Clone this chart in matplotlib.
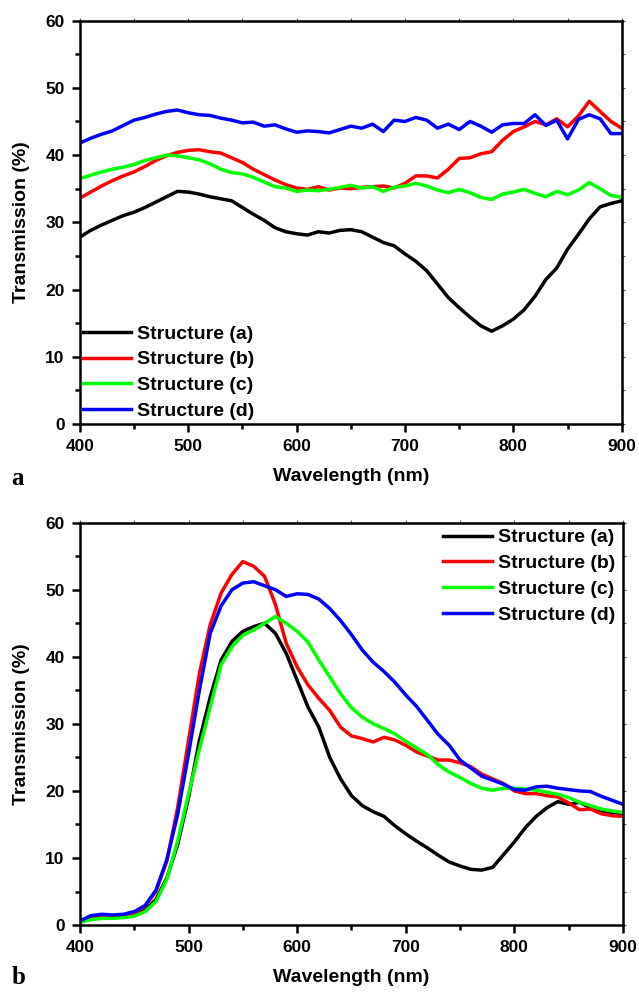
import numpy as np
import matplotlib.pyplot as plt
from matplotlib.ticker import MultipleLocator

plt.rcParams['font.family'] = ['Liberation Sans', 'DejaVu Sans']
plt.rcParams['font.weight'] = 'bold'

# wavelength grid (nm), shared by all curves
wl = np.arange(400, 901, 10)

# panel a: transmission (%)
top_a = [27.8, 28.8, 29.6, 30.3, 31.0, 31.5, 32.2, 33.0, 33.8, 34.6, 34.5,
         34.2, 33.8, 33.5, 33.2, 32.2, 31.2, 30.3, 29.2, 28.6, 28.3, 28.1,
         28.6, 28.4, 28.8, 28.9, 28.6, 27.8, 27.0, 26.5, 25.3, 24.2, 22.8,
         20.8, 18.8, 17.3, 15.9, 14.6, 13.8, 14.6, 15.6, 17.0, 19.0, 21.5,
         23.2, 26.0, 28.2, 30.5, 32.3, 32.8, 33.2]
top_b = [33.6, 34.5, 35.4, 36.2, 36.9, 37.5, 38.3, 39.2, 39.9, 40.4, 40.7,
         40.8, 40.5, 40.3, 39.6, 38.9, 37.9, 37.1, 36.3, 35.6, 35.1, 34.9,
         35.3, 34.8, 35.1, 35.0, 35.2, 35.3, 35.4, 35.1, 35.8, 36.9, 36.9,
         36.6, 37.9, 39.5, 39.6, 40.2, 40.5, 42.2, 43.5, 44.2, 45.0, 44.5,
         45.4, 44.2, 45.8, 48.0, 46.5, 45.0, 44.0]
top_c = [36.5, 37.0, 37.5, 37.9, 38.2, 38.6, 39.2, 39.6, 40.0, 39.9, 39.6,
         39.3, 38.7, 37.9, 37.4, 37.2, 36.7, 36.0, 35.3, 35.1, 34.6, 34.8,
         34.7, 34.9, 35.2, 35.5, 35.1, 35.3, 34.6, 35.2, 35.4, 35.8, 35.4,
         34.8, 34.4, 34.9, 34.4, 33.7, 33.4, 34.2, 34.5, 34.9, 34.3, 33.8,
         34.6, 34.1, 34.8, 35.9, 35.0, 34.0, 33.7]
top_d = [41.8, 42.5, 43.1, 43.6, 44.4, 45.2, 45.6, 46.1, 46.5, 46.7, 46.3,
         46.0, 45.9, 45.5, 45.2, 44.8, 44.9, 44.3, 44.5, 43.9, 43.4, 43.6,
         43.5, 43.3, 43.8, 44.3, 44.0, 44.6, 43.5, 45.2, 45.0, 45.6, 45.2,
         44.0, 44.6, 43.8, 45.0, 44.3, 43.4, 44.5, 44.7, 44.7, 46.0, 44.4,
         45.2, 42.4, 45.3, 46.0, 45.4, 43.2, 43.2]

# panel b: transmission (%)
bot_a = [0.5, 1.0, 1.2, 1.1, 1.2, 1.4, 2.2, 3.8, 7.0, 12.0, 19.0, 27.5, 34.0,
         39.5, 42.3, 43.8, 44.5, 45.0, 43.5, 40.5, 36.5, 32.5, 29.5, 25.0,
         21.8, 19.3, 17.8, 16.9, 16.2, 14.8, 13.6, 12.5, 11.5, 10.4, 9.4, 8.8,
         8.3, 8.2, 8.6, 10.5, 12.4, 14.5, 16.2, 17.5, 18.4, 18.0, 18.3, 17.5,
         17.0, 16.8, 16.6]
bot_b = [0.5, 1.2, 1.4, 1.3, 1.4, 1.8, 2.8, 5.0, 9.5, 17.5, 27.5, 37.5, 44.8,
         49.5, 52.3, 54.2, 53.5, 52.0, 47.8, 42.0, 38.5, 35.8, 33.8, 32.0,
         29.5, 28.2, 27.8, 27.3, 28.0, 27.6, 26.8, 25.8, 25.2, 24.6, 24.6,
         24.2, 23.6, 22.5, 21.8, 21.1, 20.0, 19.6, 19.6, 19.3, 19.1, 18.2,
         17.2, 17.3, 16.6, 16.3, 16.2]
bot_c = [0.4, 0.8, 1.0, 1.0, 1.1, 1.3, 2.0, 3.5, 6.8, 12.5, 19.5, 26.2, 32.5,
         38.8, 41.5, 43.2, 44.0, 45.0, 46.0, 45.0, 43.8, 42.2, 39.5, 37.0,
         34.5, 32.4, 31.0, 30.0, 29.3, 28.5, 27.4, 26.4, 25.4, 23.9, 22.8,
         22.0, 21.1, 20.4, 20.1, 20.4, 20.4, 20.3, 20.1, 19.8, 19.5, 19.0,
         18.3, 17.8, 17.3, 17.0, 16.8]
bot_d = [0.6, 1.4, 1.6, 1.5, 1.6, 2.0, 2.9, 5.2, 9.7, 16.5, 25.5, 35.0, 43.5,
         47.6, 50.0, 51.0, 51.2, 50.6, 50.0, 49.0, 49.4, 49.3, 48.6, 47.2,
         45.4, 43.3, 41.0, 39.2, 37.8, 36.2, 34.3, 32.6, 30.5, 28.4, 26.8,
         24.6, 23.4, 22.2, 21.6, 21.0, 20.2, 20.1, 20.6, 20.7, 20.4, 20.2,
         20.0, 19.9, 19.2, 18.6, 18.0]

labels = ['Structure (a)', 'Structure (b)', 'Structure (c)', 'Structure (d)']
colors = ['#000000', '#ff0000', '#00ff00', '#0000ff']

fig = plt.figure(figsize=(6.39, 9.92), dpi=100)
ax1 = fig.add_axes([0.125, 0.5726, 0.848, 0.4066])
ax2 = fig.add_axes([0.125, 0.0675, 0.850, 0.4056])


def style(ax):
    ax.set_xlim(400, 900)
    ax.set_ylim(0, 60)
    ax.xaxis.set_major_locator(MultipleLocator(100))
    ax.xaxis.set_minor_locator(MultipleLocator(50))
    ax.yaxis.set_major_locator(MultipleLocator(10))
    ax.yaxis.set_minor_locator(MultipleLocator(5))
    for s in ax.spines.values():
        s.set_linewidth(1.8)
    ax.tick_params(which='major', direction='out', length=6, width=1.8,
                   labelsize=12.5, pad=5)
    ax.tick_params(which='minor', direction='out', length=3.5, width=1.8)
    for t in ax.get_xticklabels() + ax.get_yticklabels():
        t.set_fontweight('bold')
    # small ticks on top and right
    sx = ax.secondary_xaxis('top')
    sx.set_xticks(np.arange(400, 901, 50))
    sx.tick_params(length=2.5, width=0.8, labeltop=False, color='#555555')
    sy = ax.secondary_yaxis('right')
    sy.set_yticks(np.arange(0, 61, 5))
    sy.tick_params(length=2.5, width=0.8, labelright=False, color='#555555')
    ax.set_xlabel('Wavelength (nm)', fontsize=14, fontweight='bold', labelpad=10)
    ax.set_ylabel('Transmission (%)', fontsize=14, fontweight='bold', labelpad=11)


for y, lab, c in zip([top_a, top_b, top_c, top_d], labels, colors):
    ax1.plot(wl, y, color=c, lw=2.5, label=lab)
for y, lab, c in zip([bot_a, bot_b, bot_c, bot_d], labels, colors):
    ax2.plot(wl, y, color=c, lw=2.5, label=lab)

style(ax1)
style(ax2)

ax1.legend(loc='lower left', bbox_to_anchor=(0.005, 0.01), frameon=False,
           handlelength=2.5, handletextpad=0.3, labelspacing=0.42,
           borderpad=0, borderaxespad=0, prop={'weight': 'bold', 'size': 14})
ax2.legend(loc='upper right', bbox_to_anchor=(0.985, 0.985), frameon=False,
           handlelength=2.5, handletextpad=0.3, labelspacing=0.42,
           borderpad=0, borderaxespad=0, prop={'weight': 'bold', 'size': 14})

fig.text(0.018, 1 - 478 / 992, 'a', fontsize=18, fontweight='bold',
         family='Liberation Serif', va='center')
fig.text(0.018, 1 - 978 / 992, 'b', fontsize=18, fontweight='bold',
         family='Liberation Serif', va='center')

fig.savefig('out.png', dpi=100)
